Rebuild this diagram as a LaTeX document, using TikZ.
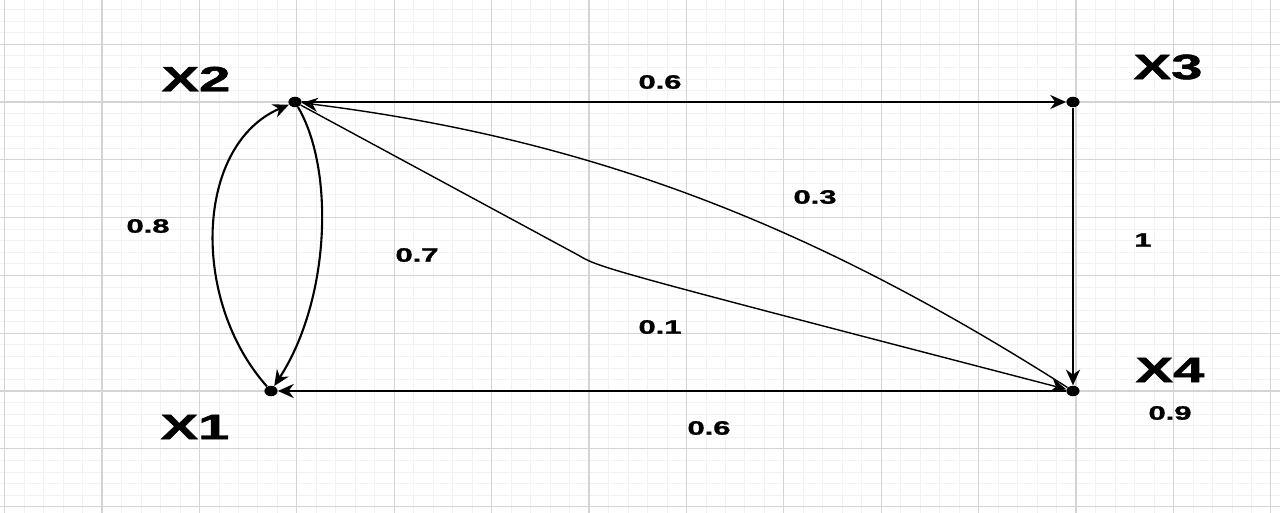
\documentclass[tikz,border=0pt]{standalone}
\usepackage{fontspec}
\setmainfont{Liberation Sans}
\newfontfamily\heavyfont{Liberation Sans Bold}[FakeBold=1.2]
\usepackage{graphicx}
\usepackage{xcolor}
\usetikzlibrary{arrows.meta,shapes.geometric}

\definecolor{gridminor}{HTML}{F2F2F2}
\definecolor{gridmajor}{HTML}{D4D4D4}
\newcommand{\widetxt}[1]{\scalebox{1.6}[1]{#1}}

\begin{document}
\begin{tikzpicture}[x=0.2mm, y=-0.2mm,
  dot/.style={ellipse, fill, inner sep=0, minimum width=7.5pt, minimum height=6pt},
  statelabel/.style={font=\fontsize{20}{20}\selectfont\heavyfont},
  prob/.style={font=\fontsize{11}{11}\selectfont\heavyfont},
  link/.style={line width=1.2pt, -{Stealth[length=9pt, width=8pt]}},
  thinlink/.style={line width=0.8pt, -{Stealth[length=9pt, width=8pt]}}]

  \useasboundingbox[fill=white] (0,0) rectangle (1280,513);

  % Grid
  \foreach \i in {0,...,65} \draw[gridminor, line width=0.4pt] ({4.6+19.48*\i},0) -- ({4.6+19.48*\i},513);
  \foreach \i in {1,...,45} \draw[gridminor, line width=0.4pt] (0,{-13.6+11.56*\i}) -- (1280,{-13.6+11.56*\i});
  \foreach \i in {0,...,13} \draw[gridmajor, line width=0.6pt] ({4.6+97.4*\i},0) -- ({4.6+97.4*\i},513);
  \foreach \i in {1,...,9} \draw[gridmajor, line width=0.6pt] (0,{-13.6+57.8*\i}) -- (1280,{-13.6+57.8*\i});

  % States
  \node[dot] (x1) at (271,391) {};
  \node[dot] (x2) at (295,102) {};
  \node[dot] (x3) at (1073,102) {};
  \node[dot] (x4) at (1073,391) {};
  \coordinate (bend) at (578,255);

  \node[statelabel] (x1lab) at (195,427) {\widetxt{X1}};
  \node[statelabel] (x2lab) at (196,79) {\widetxt{X2}};
  \node[statelabel] (x3lab) at (1168,67) {\widetxt{X3}};
  \node[statelabel] (x4lab) at (1170,370) {\widetxt{X4}};

  % Transitions
  \draw[link] (x1) .. controls (190,300) and (195,145) .. (x2);
  \draw[link] (x2) .. controls (335,170) and (330,300) .. (x1);
  \draw[link] (x2) -- (x3);
  \draw[link] (x3) -- (x4);
  \draw[link] (x4) -- (x1);
  \draw[thinlink] (x4) .. controls (820,230) and (600,140) .. (x2);
  \draw[thinlink] (x2) -- (bend) .. controls (600,268) .. (x4);

  % Probabilities
  \node[prob] (p08) at (148,226) {\widetxt{0.8}};
  \node[prob] (p06a) at (660,82) {\widetxt{0.6}};
  \node[prob] (p03) at (815,197) {\widetxt{0.3}};
  \node[prob] (p07) at (417,255) {\widetxt{0.7}};
  \node[prob] (p01) at (660,327) {\widetxt{0.1}};
  \node[prob] (p1) at (1143,240) {\widetxt{1}};
  \node[prob] (p06b) at (709,428) {\widetxt{0.6}};
  \node[prob] (p09) at (1170,413) {\widetxt{0.9}};

\end{tikzpicture}
\end{document}
